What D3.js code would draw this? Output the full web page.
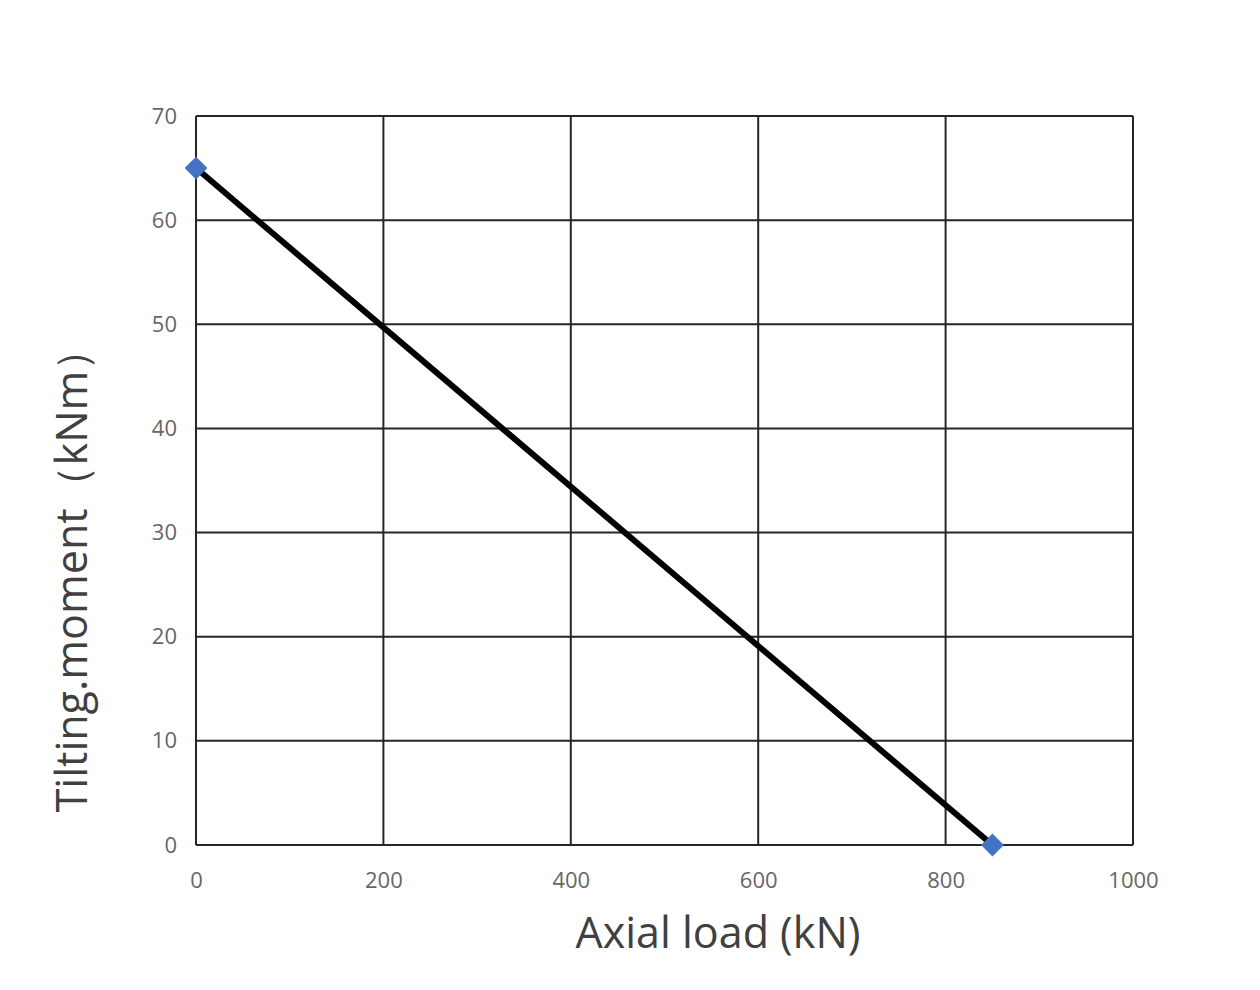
<!DOCTYPE html>
<html lang="en">
<head>
<meta charset="utf-8">
<title>Tilting moment vs axial load</title>
<style>
  body { margin: 0; background: #fff; }
  text { font-family: "Open Sans", "Noto Sans", sans-serif; }
</style>
</head>
<body>
<script src="https://cdn.jsdelivr.net/npm/d3@7/dist/d3.min.js"></script>
<script>
  // data
  var axialLoad = [0, 850];
  var tiltingMoment = [65, 0];
  var xTicks = [0, 200, 400, 600, 800, 1000];
  var yTicks = [0, 10, 20, 30, 40, 50, 60, 70];

  var w = 1260, h = 990;
  var margin = {top: 116, right: 127, bottom: 145, left: 196};

  var svg = d3.select("body").append("svg").attr("width", w).attr("height", h);

  var x = d3.scaleLinear().domain([0, 1000]).range([margin.left, w - margin.right]);
  var y = d3.scaleLinear().domain([0, 70]).range([h - margin.bottom, margin.top]);

  // grid
  var grid = svg.append("g").attr("id", "grid");
  grid.selectAll("line.v").data(xTicks).enter().append("line")
    .attr("x1", d => x(d)).attr("x2", d => x(d))
    .attr("y1", y(0)).attr("y2", y(70))
    .attr("stroke", "#262626").attr("stroke-width", 2);
  grid.selectAll("line.h").data(yTicks).enter().append("line")
    .attr("y1", d => y(d)).attr("y2", d => y(d))
    .attr("x1", x(0)).attr("x2", x(1000))
    .attr("stroke", "#262626").attr("stroke-width", 2);

  // axes (labels only)
  var xAxis = svg.append("g").attr("transform", `translate(0,${y(0)})`)
    .call(d3.axisBottom(x).tickValues(xTicks).tickSize(0).tickPadding(27).tickFormat(d3.format("d")));
  var yAxis = svg.append("g").attr("transform", `translate(${x(0)},0)`)
    .call(d3.axisLeft(y).tickValues(yTicks).tickSize(0).tickPadding(19).tickFormat(d3.format("d")));
  [xAxis, yAxis].forEach(function(a) {
    a.select(".domain").remove();
    a.selectAll("text").attr("fill", "#666").style("font-size", "22px")
      .style("font-family", "'Open Sans', 'Noto Sans', sans-serif");
  });

  // series
  var pts = axialLoad.map((d, i) => ({x: d, y: tiltingMoment[i]}));
  svg.append("path").datum(pts)
    .attr("fill", "none").attr("stroke", "#000").attr("stroke-width", 6)
    .attr("d", d3.line().x(d => x(d.x)).y(d => y(d.y)));

  svg.selectAll("path.marker").data(pts).enter().append("path")
    .attr("class", "marker")
    .attr("d", d3.symbol().type(d3.symbolDiamond2).size(330))
    .attr("transform", d => `translate(${x(d.x)},${y(d.y)})`)
    .attr("fill", "#4472C4");

  // axis titles
  svg.append("text").text("Axial load (kN)")
    .attr("x", 718).attr("y", 948)
    .attr("text-anchor", "middle").attr("fill", "#404040")
    .style("font-size", "43px");

  svg.append("text").text("Tilting.moment（kNm）")
    .attr("transform", "translate(87,570) rotate(-90)")
    .attr("text-anchor", "middle").attr("fill", "#404040")
    .style("font-size", "43px");
</script>
</body>
</html>
